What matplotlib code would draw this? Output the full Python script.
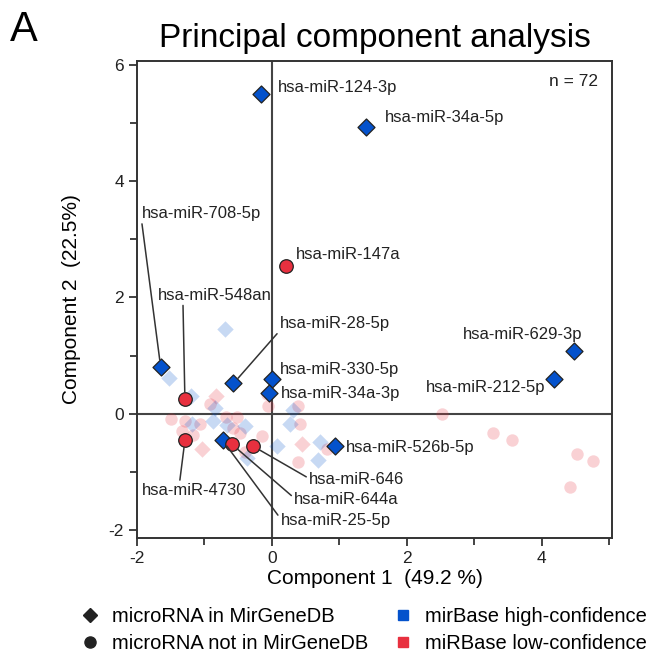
import numpy as np
import matplotlib
matplotlib.use("Agg")
import matplotlib.pyplot as plt
from matplotlib.lines import Line2D

plt.rcParams["font.family"] = ["Liberation Sans", "DejaVu Sans"]
plt.rcParams["axes.unicode_minus"] = False

# ------------------------------------------------------------------ #
#   Datos
# ------------------------------------------------------------------ #
# microRNAs destacados (con etiqueta)
hl_names = ["hsa-miR-124-3p", "hsa-miR-34a-5p", "hsa-miR-147a", "hsa-miR-629-3p",
            "hsa-miR-212-5p", "hsa-miR-708-5p", "hsa-miR-548an", "hsa-miR-28-5p",
            "hsa-miR-330-5p", "hsa-miR-34a-3p", "hsa-miR-526b-5p", "hsa-miR-4730",
            "hsa-miR-25-5p", "hsa-miR-644a", "hsa-miR-646"]
hl_pc1 = [-0.16, 1.39, 0.21, 4.48, 4.18, -1.65, -1.29, -0.57, 0.00, -0.05, 0.93,
          -1.29, -0.73, -0.59, -0.28]
hl_pc2 = [5.50, 4.93, 2.55, 1.07, 0.60, 0.81, 0.25, 0.52, 0.60, 0.35, -0.56,
          -0.46, -0.46, -0.53, -0.56]
hl_in_db = [True, True, False, True, True, True, False, True, True, True, True,
            False, True, False, False]

# resto de microRNAs (atenuados)
bg_hc_db_pc1 = [-0.70, -1.53, -1.20, -0.85, -0.88, -1.19, -0.67, -0.40, 0.31, 0.27,
                0.07, 0.71, 0.68, -0.37]
bg_hc_db_pc2 = [1.46, 0.62, 0.31, 0.09, -0.12, -0.18, -0.20, -0.22, 0.07, -0.18,
                -0.56, -0.48, -0.80, -0.77]
bg_lc_db_pc1 = [-0.83, -1.04, 0.44]
bg_lc_db_pc2 = [0.30, -0.60, -0.53]
bg_lc_nodb_pc1 = [-0.92, -0.08, -0.06, 0.38, -1.49, -1.29, -1.07, -0.68, -0.52, -1.34,
                  -1.17, -0.58, -0.48, -0.14, -0.40, 0.41, 0.38, 0.81, 2.52, 3.28,
                  3.56, 4.52, 4.76, 4.42]
bg_lc_nodb_pc2 = [0.16, 0.33, 0.13, 0.14, -0.10, -0.12, -0.17, -0.05, -0.05, -0.29,
                  -0.36, -0.24, -0.34, -0.39, -0.66, -0.17, -0.84, -0.61, -0.01, -0.34,
                  -0.46, -0.70, -0.82, -1.27]

n_total = 72
var_pc1 = 49.2
var_pc2 = 22.5

# ------------------------------------------------------------------ #
#   Estilo / layout
# ------------------------------------------------------------------ #
BLUE = "#0452cc"
RED = "#e8303f"
FADE = 0.22

# desplazamiento de la etiqueta (px), alineación, relpos de la línea guía (None = sin línea)
label_layout = {
    "hsa-miR-124-3p": ((17, 7), "left", None),
    "hsa-miR-34a-5p": ((19, 10), "left", None),
    "hsa-miR-147a": ((10, 11), "left", None),
    "hsa-miR-629-3p": ((8, 17), "right", None),
    "hsa-miR-212-5p": ((-9, -9), "right", None),
    "hsa-miR-330-5p": ((8, 9), "left", None),
    "hsa-miR-34a-3p": ((12, 0), "left", None),
    "hsa-miR-526b-5p": ((11, -1), "left", None),
    "hsa-miR-708-5p": ((-19, 153), "left", (0.0, 0.0)),
    "hsa-miR-548an": ((-27, 104), "left", (0.22, 0.0)),
    "hsa-miR-28-5p": ((46, 60), "left", (0.0, 0.0)),
    "hsa-miR-4730": ((-43, -50), "left", (0.36, 1.0)),
    "hsa-miR-646": ((56, -33), "left", (0.0, 0.55)),
    "hsa-miR-644a": ((62, -55), "left", (0.0, 0.6)),
    "hsa-miR-25-5p": ((58, -80), "left", (0.0, 0.6)),
}

fig = plt.figure(figsize=(6.52, 6.59), dpi=100)
ax = fig.add_axes([137 / 652, 1 - 538 / 659, 475 / 652, 477 / 659])

# ejes en cero
ax.axhline(0, color="#444444", lw=1.5, zorder=1)
ax.axvline(0, color="#444444", lw=1.5, zorder=1)

# puntos atenuados
ax.scatter(bg_lc_nodb_pc1, bg_lc_nodb_pc2, marker="o", s=80, color=RED, alpha=FADE,
           linewidths=0, zorder=2)
ax.scatter(bg_lc_db_pc1, bg_lc_db_pc2, marker="D", s=70, color=RED, alpha=FADE,
           linewidths=0, zorder=2)
ax.scatter(bg_hc_db_pc1, bg_hc_db_pc2, marker="D", s=70, color=BLUE, alpha=FADE,
           linewidths=0, zorder=2)

# puntos destacados
hl_pc1 = np.array(hl_pc1)
hl_pc2 = np.array(hl_pc2)
mask = np.array(hl_in_db)
ax.scatter(hl_pc1[mask], hl_pc2[mask], marker="D", s=75, color=BLUE,
           edgecolors="#222222", linewidths=0.9, zorder=4)
ax.scatter(hl_pc1[~mask], hl_pc2[~mask], marker="o", s=95, color=RED,
           edgecolors="#222222", linewidths=0.9, zorder=4)

# etiquetas
for name, x, y in zip(hl_names, hl_pc1, hl_pc2):
    off, ha, relpos = label_layout[name]
    kw = {}
    if relpos is not None:
        kw["arrowprops"] = dict(arrowstyle="-", color="#333333", lw=1.1,
                                relpos=relpos, shrinkA=0, shrinkB=5)
    ax.annotate(name, (x, y), xytext=off, textcoords="offset pixels",
                ha=ha, va="center", fontsize=12, color="#222222", zorder=5, **kw)

ax.text(0.97, 0.956, f"n = {n_total}", transform=ax.transAxes, ha="right",
        va="center", fontsize=12.5, color="#222222")

# Settings
ax.set_xlim(-2, 5.04)
ax.set_ylim(-2.14, 6.07)
ax.set_xticks([-2, 0, 2, 4])
ax.set_xticks([-1, 1, 3, 5], minor=True)
ax.set_yticks([-2, 0, 2, 4, 6])
ax.set_yticks([-1, 1, 3, 5], minor=True)
ax.tick_params(which="both", direction="out", labelsize=12.5, colors="#222222",
               width=1.2)
ax.tick_params(which="major", length=6)
ax.tick_params(which="minor", length=5)
for sp in ax.spines.values():
    sp.set_linewidth(1.4)
    sp.set_color("#333333")

ax.set_xlabel(f"Component 1  ({var_pc1} %)", fontsize=15, labelpad=2)
ax.set_ylabel(f"Component 2  ({var_pc2}%)", fontsize=15, labelpad=20)
ax.set_title("Principal component analysis", fontsize=24, pad=10)
fig.text(10 / 652, 1 - 30 / 659, "A", fontsize=30, va="center", ha="left")

# leyenda
handles = [
    Line2D([], [], marker="D", color="#222222", ls="none", markersize=7),
    Line2D([], [], marker="o", color="#222222", ls="none", markersize=8),
    Line2D([], [], marker="s", color=BLUE, ls="none", markersize=7),
    Line2D([], [], marker="s", color=RED, ls="none", markersize=7),
]
labels = ["microRNA in MirGeneDB", "microRNA not in MirGeneDB",
          "mirBase high-confidence", "miRBase low-confidence"]
fig.legend(handles, labels, ncol=2, frameon=False, loc="center left",
           bbox_to_anchor=(60 / 652, 1 - 630 / 659), fontsize=14.5,
           handletextpad=0.5, columnspacing=1.1, labelspacing=0.4,
           handlelength=1.2)

fig.savefig("out.png", dpi=100)
